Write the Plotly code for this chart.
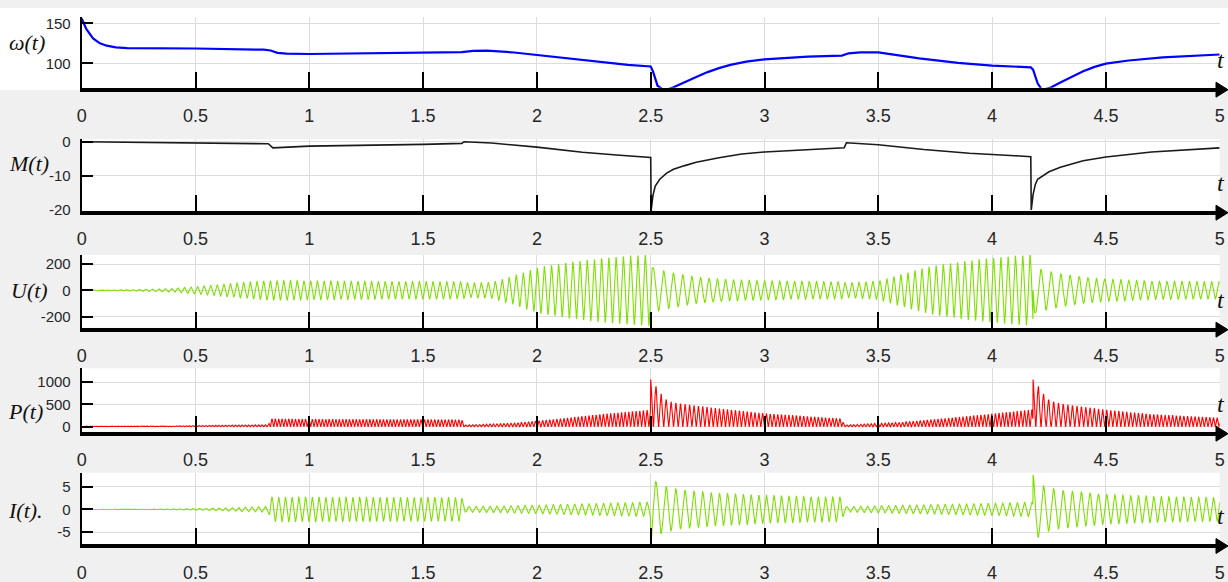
import numpy as np
import plotly.graph_objects as go

W, H = 1228, 582

# ---------------- data ----------------
# omega(t) knots
omega_t = [0, 0.02, 0.05, 0.08, 0.11, 0.15, 0.2, 0.5, 0.8, 0.83, 0.86, 0.9, 1.0, 1.3, 1.67,
           1.72, 1.78, 1.9, 2.0, 2.2, 2.4, 2.5, 2.51, 2.53, 2.56, 2.6, 2.65, 2.7, 2.75, 2.8,
           2.85, 2.92, 3.0, 3.19, 3.34, 3.37, 3.42, 3.5, 3.68, 3.85, 4.0, 4.17, 4.18, 4.2,
           4.22, 4.26, 4.3, 4.35, 4.4, 4.45, 4.5, 4.6, 4.75, 5.0]
omega_v = [156, 143, 131, 125, 122, 120, 119, 118.5, 117, 116, 113, 112, 111.6, 112.5, 114,
           115.5, 115.8, 113.5, 110.5, 104, 98, 96, 90, 72, 66, 70, 77, 83, 89, 94,
           98, 102, 105, 108.3, 109.6, 112.5, 113.7, 113.7, 106.2, 100.5, 97, 95, 92, 75,
           66.5, 70, 76, 83, 90, 95.5, 99.5, 103.5, 107.5, 111]

# M(t) knots
m_t = [0, 0.5, 0.82, 0.84, 0.9, 1.0, 1.5, 1.67, 1.68, 1.8, 2.0, 2.2, 2.35, 2.49, 2.5,
       2.502, 2.51, 2.52, 2.54, 2.57, 2.6, 2.65, 2.7, 2.8, 2.9, 3.0, 3.2, 3.35, 3.36,
       3.5, 3.7, 3.9, 4.1, 4.17, 4.172, 4.18, 4.19, 4.2, 4.25, 4.3, 4.4, 4.5, 4.7, 4.9, 5.0]
m_v = [0, -0.3, -0.6, -1.8, -1.6, -1.3, -0.8, -0.5, 0, -0.4, -1.6, -3.1, -3.9, -4.5, -4.6,
       -20, -15.7, -13, -11, -9.2, -8.1, -7, -6, -4.7, -3.6, -3.0, -2.2, -1.8, -0.3,
       -0.9, -2.3, -3.4, -4.1, -4.4, -20, -15.5, -12.5, -11, -8.8, -7.5, -5.6, -4.5, -3, -2.1, -1.8]

# carrier frequency of the oscillating signals (Hz)
freq_t = [0, 0.83, 1.67, 2.5, 2.501, 2.6, 2.8, 3.0, 3.34, 3.35, 4.17, 4.18, 4.181, 4.3, 4.5, 4.7, 5.0]
freq_hz = [36, 34, 33, 31, 21, 24, 28, 30, 32, 33, 31, 31, 21, 24, 28, 30, 31]
event_times = [2.5, 4.18]
event_phase = [-np.pi / 2, np.pi / 2]

# U(t) envelope
u_env_t = [0, 0.1, 0.25, 0.4, 0.5, 0.6, 0.7, 0.8, 0.9, 1.0, 1.3, 1.67, 1.7, 1.8, 1.9, 2.0,
           2.1, 2.2, 2.3, 2.4, 2.5, 2.51, 2.55, 2.6, 2.7, 2.8, 2.96, 3.1, 3.34, 3.36, 3.5,
           3.6, 3.7, 3.8, 3.9, 4.0, 4.1, 4.18, 4.19, 4.25, 4.3, 4.4, 4.5, 4.7, 5.0]
u_env = [2, 3, 8, 15, 28, 42, 58, 72, 75, 72, 68, 65, 55, 60, 110, 170,
         200, 225, 245, 260, 270, 170, 150, 130, 100, 85, 74, 70, 65, 55, 70,
         120, 170, 200, 225, 245, 260, 270, 170, 145, 125, 100, 85, 70, 65]

# I(t) envelope
i_env_t = [0, 0.3, 0.5, 0.7, 0.82, 0.83, 1.0, 1.67, 1.68, 1.9, 2.2, 2.499, 2.5, 2.525, 2.55,
           2.63, 2.77, 3.0, 3.2, 3.34, 3.35, 3.6, 3.9, 4.179, 4.18, 4.205, 4.23, 4.3, 4.5, 4.75, 5.0]
i_env = [0.03, 0.08, 0.2, 0.45, 0.65, 2.7, 2.7, 2.6, 0.6, 0.8, 1.2, 1.6, 7.5, 6.0, 5.2,
         4.3, 3.7, 3.1, 2.8, 2.7, 0.6, 0.9, 1.2, 1.6, 7.6, 6.0, 5.0, 4.2, 3.3, 2.8, 2.6]

# P(t) envelope
p_env_t = [0, 0.4, 0.5, 0.7, 0.82, 0.83, 1.0, 1.67, 1.68, 1.9, 2.1, 2.3, 2.499, 2.5, 2.524,
           2.548, 2.57, 2.6, 2.7, 2.85, 3.0, 3.25, 3.34, 3.35, 3.6, 3.8, 4.0, 4.179, 4.18,
           4.204, 4.228, 4.25, 4.28, 4.35, 4.5, 4.7, 5.0]
p_env = [15, 20, 30, 40, 45, 180, 170, 160, 40, 80, 180, 290, 380, 1060, 900,
         720, 600, 540, 470, 380, 300, 210, 180, 40, 100, 190, 290, 390, 1060,
         900, 720, 600, 540, 480, 380, 280, 200]

x_ticks = [0, 0.5, 1, 1.5, 2, 2.5, 3, 3.5, 4, 4.5, 5]
x_ticklabels = ["0", "0.5", "1", "1.5", "2", "2.5", "3", "3.5", "4", "4.5", "5"]
y_titles = ["ω(t)", "M(t)", "U(t)", "P(t)", "I(t)."]
y_ticks = [[100, 150], [-20, -10, 0], [-200, 0, 200], [0, 500, 1000], [-5, 0, 5]]
y_ticklabels = [["100", "150"], ["-20", "-10", "0"], ["-200", "0", "200"],
                ["0", "500", "1000"], ["-5", "0", "5"]]
y_ranges = [[69.5, 157.5], [-20.2, 0.7], [-285, 269], [-112, 1313], [-7.65, 8.1]]

# ---------------- build oscillating signals ----------------
t = np.linspace(0, 5, 8001)
dt = t[1] - t[0]
f = np.interp(t, freq_t, freq_hz)
phase = np.concatenate([[0], np.cumsum(2 * np.pi * f[:-1] * dt)])
for e, ph0 in zip(event_times, event_phase):
    idx = np.searchsorted(t, e)
    phase[idx:] = phase[idx:] - phase[idx] + ph0

u_sig = np.interp(t, u_env_t, u_env) * np.sin(phase + np.pi / 2)
i_sig = np.interp(t, i_env_t, i_env) * np.sin(phase)
p_sig = np.interp(t, p_env_t, p_env) * np.sin(phase) ** 2

# ---------------- layout geometry (pixels) ----------------
X0, X1 = 81.7, 1219.7
panels = [(17.3, 87.7), (139.3, 210.7), (255, 327.7), (368.3, 431.7), (472.7, 544)]
title_pos = [(27, 43), (29, 163), (29, 290), (25, 411), (25, 510)]

def px(x):
    return x / W

def py(y):
    return 1 - y / H

fig = go.Figure()
series = [
    (omega_t, omega_v, "#0000ff", 2.2),
    (m_t, m_v, "#1a1a1a", 1.6),
    (t, u_sig, "#7ee000", 1.1),
    (t, p_sig, "#ff0000", 1.1),
    (t, i_sig, "#7ee000", 1.1),
]
for k, (xs, ys, col, lw) in enumerate(series, start=1):
    fig.add_trace(go.Scatter(x=xs, y=ys, mode="lines", line=dict(color=col, width=lw),
                             xaxis=f"x{k}", yaxis=f"y{k}", showlegend=False, hoverinfo="skip"))

tick_font = dict(family="Liberation Sans Narrow, Arial Narrow, Liberation Sans, sans-serif",
                 size=18, color="#262626")
ytick_font = dict(family="Liberation Sans Narrow, Arial Narrow, Liberation Sans, sans-serif",
                  size=15, color="#262626")
title_font = dict(family="Liberation Serif, Times New Roman, serif", size=22, color="#111111")

layout = dict(width=W, height=H, margin=dict(l=0, r=0, t=0, b=0, pad=0, autoexpand=False),
              paper_bgcolor="#f0f0f0", plot_bgcolor="#ffffff", showlegend=False)
shapes = []
annotations = []
for k, (top, bot) in enumerate(panels, start=1):
    layout[f"xaxis{k}"] = dict(
        domain=[px(X0), px(X1)], range=[0, 5], anchor=f"y{k}", automargin=False,
        tickvals=x_ticks, ticktext=x_ticklabels, ticks="inside", ticklen=16, tickwidth=1.5,
        tickcolor="#000000", showgrid=True, gridcolor="#dcdcdc", gridwidth=1,
        showline=True, linecolor="#000000", linewidth=4, zeroline=False,
        tickfont=tick_font, ticklabelstandoff=9, fixedrange=True)
    layout[f"yaxis{k}"] = dict(
        domain=[py(bot), py(top)], range=y_ranges[k - 1], anchor=f"x{k}", automargin=False,
        tickvals=y_ticks[k - 1], ticktext=y_ticklabels[k - 1], ticks="inside", ticklen=11,
        tickwidth=2, tickcolor="#000000", showgrid=True, gridcolor="#dcdcdc", gridwidth=1,
        showline=True, linecolor="#000000", linewidth=2, zeroline=False,
        tickfont=ytick_font, ticklabelstandoff=6, fixedrange=True)
    # arrow head at the right end of the time axis
    ay = bot + 2
    shapes.append(dict(type="path", xref="paper", yref="paper",
                       path=f"M {px(1216)} {py(ay - 7.5)} L {px(1228)} {py(ay)} L {px(1216)} {py(ay + 7.5)} Z",
                       fillcolor="#000000", line=dict(color="#000000", width=1)))
    shapes.append(dict(type="line", xref="paper", yref="paper", x0=px(X1 - 2), x1=px(1222),
                       y0=py(ay), y1=py(ay), line=dict(color="#000000", width=4)))
    annotations.append(dict(text="<i>t</i>", xref="paper", yref="paper", x=px(1227), y=py(bot - 28),
                            xanchor="right", yanchor="middle", showarrow=False,
                            font=dict(family="Liberation Serif, serif", size=24, color="#111111")))
    tx, ty = title_pos[k - 1]
    annotations.append(dict(text=f"<i>{y_titles[k - 1]}</i>", xref="paper", yref="paper",
                            x=px(tx), y=py(ty), xanchor="center", yanchor="middle",
                            showarrow=False, font=title_font))

# white band behind the first row
shapes.insert(0, dict(type="rect", xref="paper", yref="paper", x0=0, x1=1, y0=py(90), y1=py(8),
                      fillcolor="#ffffff", line=dict(width=0), layer="below"))
layout["shapes"] = shapes
layout["annotations"] = annotations
fig.update_layout(**layout)
fig.write_html("out.html", config={"displayModeBar": False},
               post_script="document.body.style.margin='0';document.body.style.overflow='hidden';")
